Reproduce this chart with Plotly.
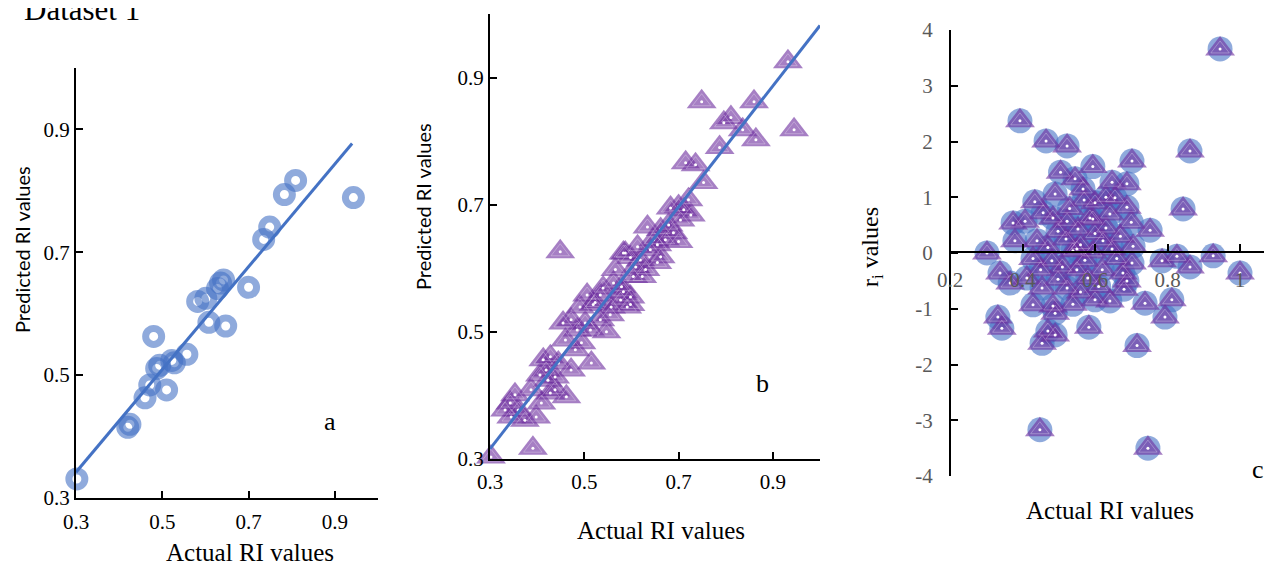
import plotly.graph_objects as go

OFF = 8  # page body margin in the browser
W, H = 1272 - 2 * OFF, 573 - 2 * OFF

# ---------------- data ----------------
# Panel a: actual vs predicted (test set)
a_actual = [0.302, 0.420, 0.425, 0.460, 0.471, 0.480, 0.487, 0.494, 0.510, 0.522, 0.528,
            0.557, 0.582, 0.601, 0.608, 0.647, 0.628, 0.635, 0.642, 0.700, 0.735, 0.749,
            0.783, 0.809, 0.943]
a_pred = [0.331, 0.415, 0.420, 0.463, 0.484, 0.563, 0.511, 0.516, 0.476, 0.524, 0.520,
          0.534, 0.620, 0.625, 0.586, 0.580, 0.641, 0.650, 0.655, 0.643, 0.721, 0.741,
          0.794, 0.817, 0.789]
a_fit_x = [0.30, 0.94]
a_fit_y = [0.342, 0.877]

# Panel b: actual vs predicted (training set)
b_actual = [0.302, 0.391, 0.343, 0.360, 0.345, 0.374, 0.398, 0.387, 0.409, 0.428, 0.462,
            0.438, 0.413, 0.428, 0.445, 0.472, 0.515, 0.494, 0.455, 0.472, 0.491, 0.502,
            0.547, 0.523, 0.540, 0.557, 0.598, 0.579, 0.587, 0.449, 0.562, 0.583, 0.598,
            0.519, 0.591, 0.604, 0.623, 0.630, 0.609, 0.598, 0.583, 0.613, 0.634, 0.647,
            0.655, 0.662, 0.655, 0.689, 0.700, 0.683, 0.700, 0.711, 0.721, 0.715, 0.736,
            0.753, 0.787, 0.796, 0.811, 0.836, 0.864, 0.749, 0.860, 0.945, 0.932, 0.353,
            0.332, 0.423, 0.419, 0.481, 0.460, 0.513, 0.534, 0.555, 0.577, 0.534, 0.619,
            0.640, 0.672, 0.679, 0.704, 0.726, 0.406, 0.438, 0.485, 0.506, 0.566, 0.662]
b_pred = [0.303, 0.317, 0.388, 0.377, 0.366, 0.361, 0.366, 0.409, 0.388, 0.404, 0.398,
          0.429, 0.456, 0.461, 0.451, 0.440, 0.451, 0.483, 0.514, 0.519, 0.539, 0.514,
          0.500, 0.546, 0.569, 0.539, 0.543, 0.571, 0.624, 0.626, 0.577, 0.563, 0.555,
          0.543, 0.539, 0.587, 0.587, 0.598, 0.602, 0.617, 0.624, 0.634, 0.665, 0.645,
          0.637, 0.618, 0.609, 0.656, 0.642, 0.695, 0.697, 0.692, 0.708, 0.766, 0.763,
          0.735, 0.790, 0.829, 0.837, 0.818, 0.802, 0.862, 0.862, 0.818, 0.925, 0.401,
          0.377, 0.424, 0.440, 0.472, 0.487, 0.503, 0.519, 0.527, 0.550, 0.558, 0.613,
          0.629, 0.645, 0.668, 0.676, 0.684, 0.432, 0.409, 0.503, 0.558, 0.598, 0.661]
b_fit_x = [0.30, 1.00]
b_fit_y = [0.316, 0.982]

# Panel c: residuals r_i vs actual RI values
c_actual = [0.945, 0.393, 0.465, 0.523, 0.862, 0.702, 0.594, 0.505, 0.545, 0.567, 0.647,
            0.688, 0.490, 0.434, 0.655, 0.688, 0.843, 0.374, 0.407, 0.457, 0.484, 0.523,
            0.586, 0.641, 0.752, 0.379, 0.440, 0.498, 0.553, 0.594, 0.622, 0.705, 0.302,
            0.429, 0.481, 0.539, 0.550, 0.594, 0.647, 0.572, 0.826, 0.926, 0.785, 0.862,
            1.000, 0.338, 0.702, 0.677, 0.366, 0.412, 0.498, 0.454, 0.523, 0.688, 0.429,
            0.484, 0.539, 0.600, 0.641, 0.738, 0.812, 0.793, 0.490, 0.332, 0.343, 0.583,
            0.454, 0.490, 0.470, 0.716, 0.448, 0.746, 0.520, 0.560, 0.600, 0.630, 0.670,
            0.660, 0.620, 0.580, 0.550, 0.510, 0.470, 0.450, 0.610, 0.700, 0.680, 0.560,
            0.530, 0.600, 0.630, 0.570]
c_resid = [3.66, 2.37, 2.01, 1.92, 1.83, 1.65, 1.55, 1.45, 1.33, 1.15, 1.27,
           1.24, 1.06, 0.92, 0.99, 0.82, 0.79, 0.54, 0.57, 0.72, 0.63, 0.57,
           0.63, 0.70, 0.41, 0.22, 0.22, 0.39, 0.43, 0.61, 0.22, 0.12, 0.00,
           -0.10, -0.14, 0.04, 0.07, 0.02, 0.07, -0.13, -0.06, -0.05, -0.14, -0.25,
           -0.36, -0.36, -0.18, -0.36, -0.54, -0.45, -0.47, -0.63, -0.63, -0.50, -0.93,
           -0.95, -0.92, -0.84, -0.86, -0.90, -0.84, -1.15, -1.08, -1.15, -1.35, -1.33,
           -1.62, -1.47, -1.40, -1.66, -3.17, -3.50, 0.25, 0.15, 0.35, 0.45, 0.30,
           -0.10, -0.30, -0.45, -0.30, -0.25, 0.10, -0.30, -0.60, 0.55, -0.65, -0.70,
           0.80, 0.90, 1.00, 0.95]

ab_ticks = [0.3, 0.5, 0.7, 0.9]
ab_ticktext = ["0.3", "0.5", "0.7", "0.9"]
c_xticks = [0.2, 0.4, 0.6, 0.8, 1.0]
c_xticktext = ["0.2", "0.4", "0.6", "0.8", "1"]
c_yticks = [4, 3, 2, 1, 0, -1, -2, -3, -4]
c_yticktext = ["4", "3", "2", "1", "0", "-1", "-2", "-3", "-4"]

# ---------------- styles ----------------
BLUE = "#4472C4"
CIRC = "rgba(68,114,196,0.6)"
PURP = "rgba(112,48,160,0.62)"
SERIF = "Liberation Serif, Times New Roman, serif"
SANS = "Lato, Open Sans, sans-serif"


def px_x(p):
    return (p - OFF) / W


def px_y(p):
    return 1 - (p - OFF) / H


def triangles(x, y, xa, ya):
    return [
        go.Scatter(x=x, y=y, xaxis=xa, yaxis=ya, mode="markers", cliponaxis=False,
                   marker=dict(symbol="triangle-up", size=26, color=PURP, line=dict(width=0)),
                   hoverinfo="x+y"),
        go.Scatter(x=x, y=y, xaxis=xa, yaxis=ya, mode="markers", cliponaxis=False,
                   marker=dict(symbol="triangle-up-open", size=16, color="rgba(255,255,255,0.28)",
                               line=dict(color="rgba(255,255,255,0.28)", width=1)),
                   hoverinfo="skip"),
        go.Scatter(x=x, y=y, xaxis=xa, yaxis=ya, mode="markers", cliponaxis=False,
                   marker=dict(symbol="circle", size=3, color="white", line=dict(width=0)),
                   hoverinfo="skip"),
    ]


fig = go.Figure()

# Panel a
fig.add_trace(go.Scatter(x=a_actual, y=a_pred, xaxis="x", yaxis="y", mode="markers",
                         cliponaxis=False,
                         marker=dict(symbol="circle-open", size=16, color=CIRC,
                                     line=dict(color=CIRC, width=7))))
fig.add_trace(go.Scatter(x=a_fit_x, y=a_fit_y, xaxis="x", yaxis="y", mode="lines",
                         line=dict(color=BLUE, width=3)))

# Panel b
for t in triangles(b_actual, b_pred, "x2", "y2"):
    fig.add_trace(t)
fig.add_trace(go.Scatter(x=b_fit_x, y=b_fit_y, xaxis="x2", yaxis="y2", mode="lines",
                         cliponaxis=False, line=dict(color=BLUE, width=3)))

# Panel c
fig.add_trace(go.Scatter(x=c_actual, y=c_resid, xaxis="x3", yaxis="y3", mode="markers",
                         cliponaxis=False,
                         marker=dict(symbol="circle", size=25, color=CIRC, line=dict(width=0))))
for t in triangles(c_actual, c_resid, "x3", "y3"):
    fig.add_trace(t)

tickfont = dict(family=SERIF, size=21, color="black")
grey_tickfont = dict(family=SERIF, size=21, color="#595959")
common = dict(showgrid=False, zeroline=False, showline=True, linecolor="black", linewidth=2,
              ticks="inside", ticklen=7, tickwidth=1.5, tickcolor="black", tickfont=tickfont,
              automargin=False)

fig.update_layout(
    width=W, height=H, margin=dict(l=0, r=0, t=0, b=0, pad=0, autoexpand=False),
    paper_bgcolor="white", plot_bgcolor="rgba(0,0,0,0)", showlegend=False,
    xaxis=dict(domain=[px_x(76), px_x(378)], range=[0.3, 1.0], anchor="y",
               tickvals=ab_ticks, ticktext=ab_ticktext, ticklabelstandoff=4, **common),
    yaxis=dict(domain=[px_y(498), px_y(68)], range=[0.3, 1.0], anchor="x",
               tickvals=ab_ticks, ticktext=ab_ticktext, **common),
    xaxis2=dict(domain=[px_x(490), px_x(820)], range=[0.3, 1.0], anchor="y2",
                tickvals=ab_ticks, ticktext=ab_ticktext, ticklabelstandoff=3, **common),
    yaxis2=dict(domain=[px_y(459), px_y(14)], range=[0.3, 1.0], anchor="x2",
                tickvals=ab_ticks, ticktext=ab_ticktext, **common),
    xaxis3=dict(domain=[px_x(950), 1.0], range=[0.2, 0.2 + 0.2 * (1264 - 950) / 72.5],
                anchor="free", position=px_y(252), ticklabelstandoff=9,
                tickvals=c_xticks, ticktext=c_xticktext,
                **{**common, "tickfont": grey_tickfont}),
    yaxis3=dict(domain=[px_y(476), px_y(30)], range=[-4, 4], anchor="free", position=px_x(950),
                tickvals=c_yticks, ticktext=c_yticktext, ticklabelstandoff=12,
                **{**common, "tickfont": grey_tickfont}),
)

ann = []


def add_text(text, x, y, size, family, angle=0, color="black", xanchor="center", yanchor="middle"):
    ann.append(dict(text=text, x=px_x(x), y=px_y(y), xref="paper", yref="paper",
                    showarrow=False, textangle=angle, xanchor=xanchor, yanchor=yanchor,
                    font=dict(family=family, size=size, color=color)))


add_text("Dataset 1", 22, 10, 31, SERIF, xanchor="left")
add_text("Predicted RI values", 22, 250, 20, SANS, angle=-90)
add_text("Predicted RI values", 423, 207, 20, SANS, angle=-90)
add_text("r<sub>i</sub> values", 872, 247, 24, SERIF, angle=-90)
add_text("Actual RI values", 250, 552, 25, SERIF)
add_text("Actual RI values", 661, 530, 25, SERIF)
add_text("Actual RI values", 1110, 510, 25, SERIF)
add_text("a", 330, 421, 26, SERIF)
add_text("b", 762, 383, 26, SERIF)
add_text("c", 1258, 469, 26, SERIF)
fig.update_layout(annotations=ann)

fig.write_html("out.html")
